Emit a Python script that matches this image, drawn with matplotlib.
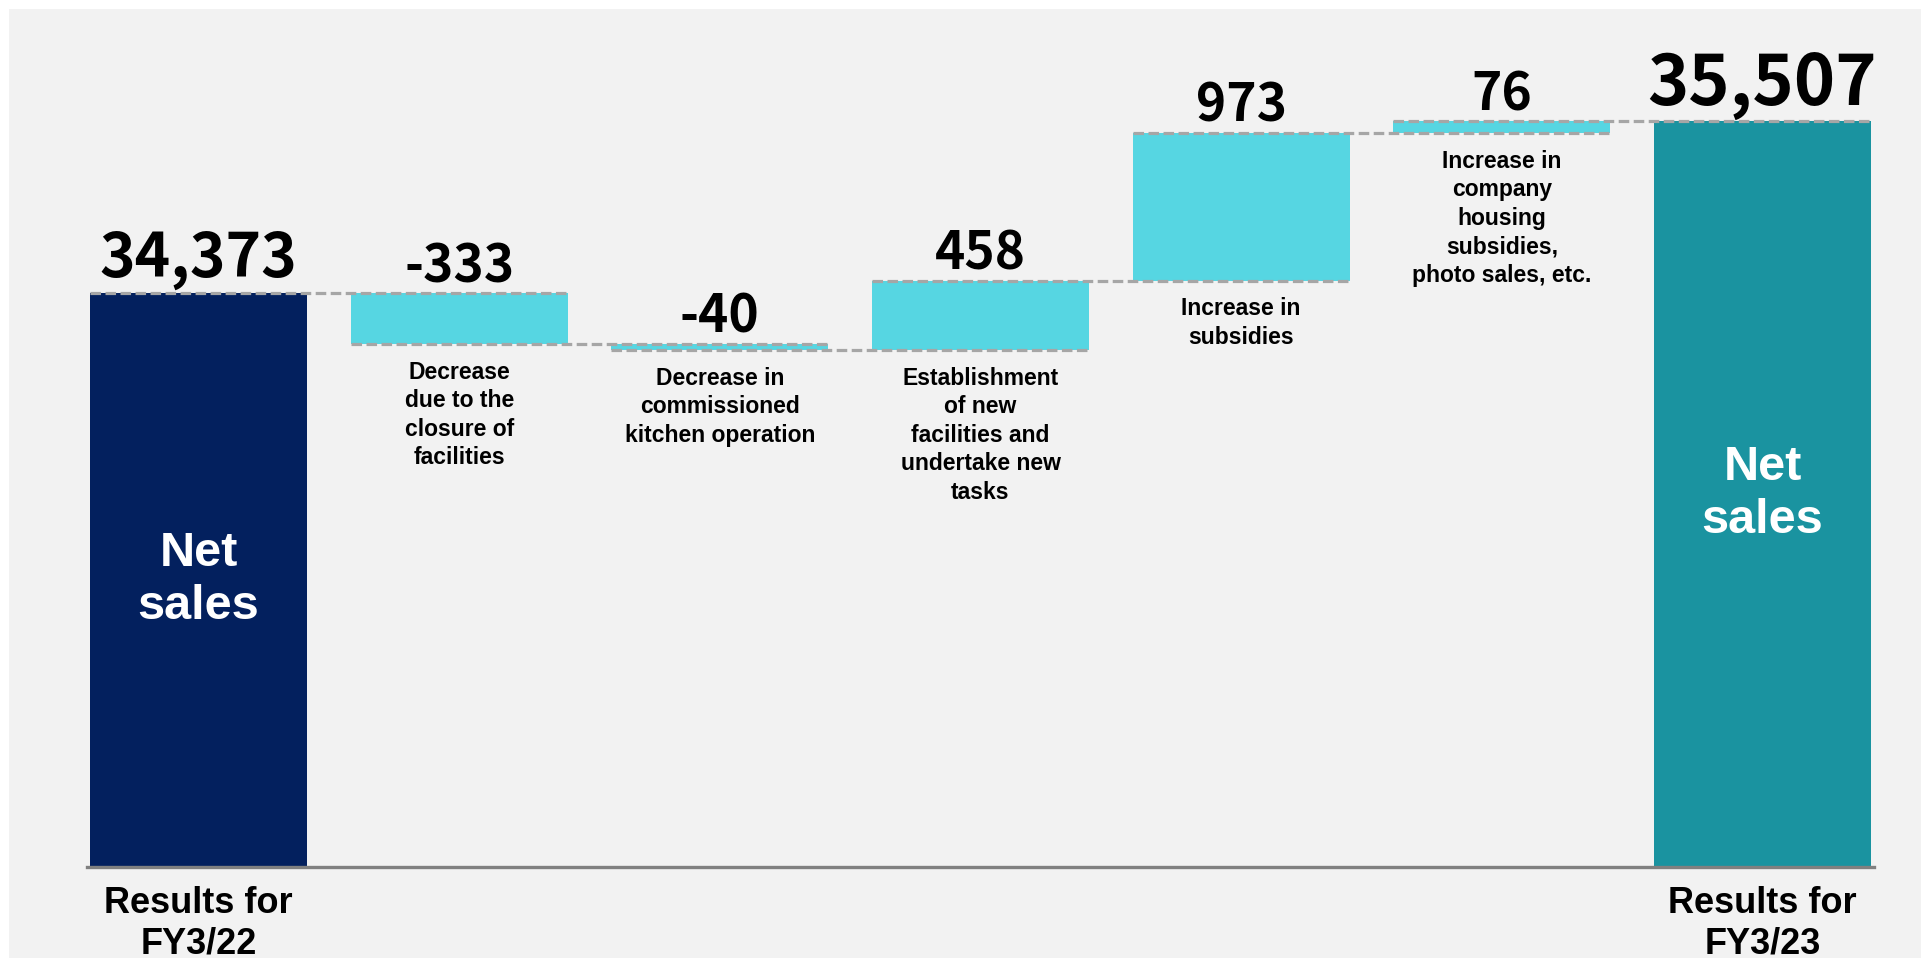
import matplotlib
matplotlib.use("Agg")
import matplotlib.pyplot as plt
from matplotlib.patches import Rectangle
import numpy as np

# ---- data ----
start_label = "Results for\nFY3/22"
end_label = "Results for\nFY3/23"
start_value = 34373
end_value = 35507
step_labels = [
    "Decrease\ndue to the\nclosure of\nfacilities",
    "Decrease in\ncommissioned\nkitchen operation",
    "Establishment\nof new\nfacilities and\nundertake new\ntasks",
    "Increase in\nsubsidies",
    "Increase in\ncompany\nhousing\nsubsidies,\nphoto sales, etc.",
]
changes = [-333, -40, 458, 973, 76]
bar_text = "Net\nsales"

# ---- style ----
c_start = "#03205E"
c_step = "#56D6E2"
c_end = "#1A93A0"
c_bg = "#F2F2F2"
c_dash = "#A6A6A6"
c_axis = "#808080"

W, H = 1921, 958
fig = plt.figure(figsize=(W / 100, H / 100), dpi=100)
fig.patch.set_facecolor("white")
fig.add_artist(Rectangle((9 / W, 0), 1, 1 - 9 / H, transform=fig.transFigure,
                         facecolor=c_bg, edgecolor="none", zorder=0))

ax = fig.add_axes([0, (H - 867) / H, 1, 867 / H - 9 / H])
ax.set_facecolor("none")
ax.axis("off")

n = len(changes) + 2
x = np.arange(n)
width = 0.832

# waterfall geometry from data
levels = [start_value]
for c in changes:
    levels.append(levels[-1] + c)
bottoms, heights, colors = [], [], []
ymin, ymax = 30593, 36248
bottoms.append(ymin); heights.append(start_value - ymin); colors.append(c_start)
for i, c in enumerate(changes):
    lo = min(levels[i], levels[i + 1])
    bottoms.append(lo); heights.append(abs(c)); colors.append(c_step)
bottoms.append(ymin); heights.append(end_value - ymin); colors.append(c_end)

ax.bar(x, heights, bottom=bottoms, width=width, color=colors, zorder=2)
ax.set_ylim(ymin, ymax)
px = 260.67
ax.set_xlim(-198.5 / px, 6 + (W - 1762.5) / px)

# connectors
for i in range(n - 1):
    lv = levels[i] if i < len(levels) else end_value
    ax.plot([x[i] - width / 2, x[i + 1] + width / 2], [lv, lv], color=c_dash,
            lw=2.3, linestyle=(0, (3.3, 1.4)), zorder=3, solid_capstyle="butt")

# axis baseline
ax.plot([x[0] - width / 2 - 0.01, x[-1] + width / 2 + 0.01], [ymin, ymin],
        color=c_axis, lw=2.4, clip_on=False, zorder=4)

vfont = dict(family=["Noto Sans CJK JP", "DejaVu Sans"], weight="bold", color="black")
afont = dict(family=["Liberation Sans", "DejaVu Sans"], weight="bold", color="black")

# totals labels
ax.annotate(f"{start_value:,}", (x[0], start_value), xytext=(0, 12),
            textcoords="offset points", ha="center", va="baseline", fontsize=43.5, **vfont)
ax.annotate(f"{end_value:,}", (x[-1], end_value), xytext=(0, 12),
            textcoords="offset points", ha="center", va="baseline", fontsize=50.5, **vfont)

for i, c in enumerate(changes):
    top = max(levels[i], levels[i + 1])
    bot = min(levels[i], levels[i + 1])
    ax.annotate(f"{c:,}", (x[i + 1], top), xytext=(0, 8),
                textcoords="offset points", ha="center", va="baseline", fontsize=37, **vfont)
    ax.annotate(step_labels[i], (x[i + 1], bot), xytext=(0, -12),
                textcoords="offset points", ha="center", va="top", fontsize=16.5,
                linespacing=1.31, **afont)

# Net sales in totals
for xi, top in [(x[0], start_value), (x[-1], end_value)]:
    ax.text(xi, (ymin + top) / 2, bar_text, ha="center", va="center",
            fontsize=35, color="white", weight="bold", family=["Liberation Sans"],
            linespacing=1.22, zorder=5)

# bottom labels
for xi, lab in [(x[0], start_label), (x[-1], end_label)]:
    ax.annotate(lab, (xi, ymin), xytext=(0, -14), textcoords="offset points",
                ha="center", va="top", fontsize=26, linespacing=1.2,
                annotation_clip=False, **afont)

fig.savefig("out.png", dpi=100, facecolor=fig.get_facecolor())
